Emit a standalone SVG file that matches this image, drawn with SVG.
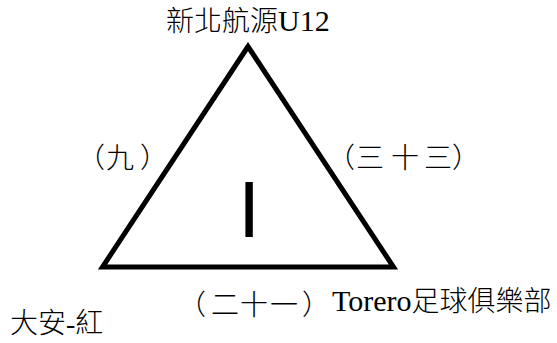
<svg xmlns="http://www.w3.org/2000/svg" width="557" height="343" viewBox="0 0 557 343">
<style>
.lbl{font-family:"Liberation Serif","Noto Sans CJK TC",serif;font-size:28px;font-weight:300;fill:#000}
.lat{font-size:30px}
.big{font-family:"Liberation Sans",Arial,sans-serif;font-size:80px;fill:#000}
.edge{fill:none;stroke:#000;stroke-width:5;stroke-linejoin:miter;stroke-miterlimit:10}
</style>
<rect width="557" height="343" fill="#fff"/>
<g id="connectors">
<polygon class="edge" points="248,46.5 102.5,267 393.5,267"/>
</g>
<g id="node-top"><text class="lbl" x="166" y="31">新北航源<tspan class="lat">U12</tspan></text></g>
<g id="node-left"><text class="lbl" x="10" y="333">大安-紅</text></g>
<g id="node-right"><text class="lbl" x="332" y="311"><tspan class="lat">Torero</tspan>足球俱樂部</text></g>
<g id="label-left"><text class="lbl" text-anchor="middle" x="91 120 154" y="168">（九）</text></g>
<g id="label-right"><text class="lbl" text-anchor="middle" x="341 370 405 438 466" y="168">（三十三）</text></g>
<g id="label-bottom"><text class="lbl" text-anchor="middle" x="192 225 254 284 316" y="315">（二十一）</text></g>
<g id="center"><text class="big" text-anchor="middle" x="249" y="237">I</text></g>
</svg>
